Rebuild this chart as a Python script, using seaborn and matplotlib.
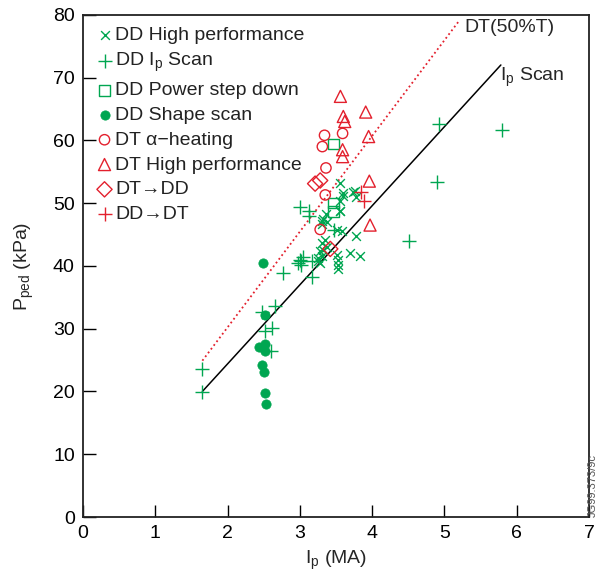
import matplotlib
matplotlib.use("Agg")
import matplotlib.pyplot as plt
import seaborn as sns
import pandas as pd

# ---------------- data ----------------
dd_hp_x = [3.56, 3.60, 3.73, 3.76, 3.78, 3.56, 3.56, 3.36, 3.32, 3.31, 3.37, 3.30,
           3.51, 3.58, 3.78, 3.35, 3.30, 3.37, 3.32, 3.28, 3.25, 3.28, 3.51, 3.53,
           3.53, 3.52, 3.69, 3.83, 3.30, 3.25, 3.55, 3.59]
dd_hp_y = [53.2, 51.6, 51.7, 52.0, 51.0, 50.4, 48.8, 48.2, 47.4, 47.2, 47.0, 46.6,
           45.7, 45.5, 44.8, 44.2, 43.7, 43.0, 42.6, 42.3, 41.2, 40.4, 41.8, 41.0,
           40.2, 39.5, 42.0, 41.6, 41.5, 40.8, 48.7, 51.2]

dd_ip_x = [1.65, 1.65, 2.47, 2.52, 2.62, 2.60, 2.66, 2.77, 2.98, 3.00, 3.02, 3.04,
           3.01, 3.16, 3.16, 3.00, 3.12, 3.13, 3.47, 4.51, 4.92, 5.80, 4.89]
dd_ip_y = [23.6, 19.9, 32.6, 29.6, 30.1, 26.4, 33.6, 38.8, 40.4, 41.0, 40.2, 41.4,
           40.8, 40.7, 38.2, 49.4, 48.8, 47.9, 45.7, 44.0, 62.6, 61.7, 53.4]

dd_psd_x = [3.46, 3.46, 3.46]
dd_psd_y = [59.4, 50.0, 48.7]

dd_shape_x = [2.49, 2.51, 2.52, 2.43, 2.52, 2.48, 2.50, 2.52, 2.53]
dd_shape_y = [40.4, 32.2, 27.5, 27.0, 26.4, 24.2, 23.1, 19.8, 18.0]

dt_alpha_x = [3.34, 3.59, 3.31, 3.36, 3.35, 3.28]
dt_alpha_y = [60.8, 61.1, 59.0, 55.6, 51.3, 45.8]

dt_hp_x = [3.56, 3.91, 3.60, 3.62, 3.95, 3.59, 3.59, 3.96, 3.97]
dt_hp_y = [67.0, 64.5, 63.8, 63.0, 60.6, 58.5, 57.4, 53.5, 46.5]

dt_dd_x = [3.21, 3.28, 3.42]
dt_dd_y = [53.1, 53.6, 42.7]

dd_dt_x = [3.85, 3.88]
dd_dt_y = [51.8, 50.4]

ip_scan_x = [1.65, 5.78]
ip_scan_y = [20.0, 72.0]
dt50_x = [1.65, 5.20]
dt50_y = [24.9, 79.0]

x_ticks = [0, 1, 2, 3, 4, 5, 6, 7]
y_ticks = [0, 10, 20, 30, 40, 50, 60, 70, 80]

GREEN = "#00a651"
RED = "#e3202d"

# ---------------- style ----------------
sns.set_theme(style="white")
plt.rcParams["font.family"] = ["Liberation Sans", "DejaVu Sans"]
plt.rcParams["mathtext.fontset"] = "custom"
plt.rcParams["mathtext.rm"] = "Liberation Sans"
plt.rcParams["mathtext.it"] = "Liberation Sans:italic"

fig = plt.figure(figsize=(5.98, 5.74), dpi=100)
ax = fig.add_axes([0.139, 0.0993, 0.846, 0.875])

groups = [
    ("DD High performance", dd_hp_x, dd_hp_y, "x", GREEN, False, 40),
    ("DD I$_\\mathrm{p}$ Scan", dd_ip_x, dd_ip_y, "+", GREEN, False, 110),
    ("DD Power step down", dd_psd_x, dd_psd_y, "s", GREEN, True, 60),
    ("DD Shape scan", dd_shape_x, dd_shape_y, "o", GREEN, False, 45),
    ("DT \u03b1\u2212heating", dt_alpha_x, dt_alpha_y, "o", RED, True, 55),
    ("DT High performance", dt_hp_x, dt_hp_y, "^", RED, True, 75),
    ("DT\u2192DD", dt_dd_x, dt_dd_y, "D", RED, True, 60),
    ("DD\u2192DT", dd_dt_x, dd_dt_y, "+", RED, False, 110),
]

for label, xs, ys, m, c, hollow, s in groups:
    df = pd.DataFrame({"x": xs, "y": ys})
    if hollow:
        sns.scatterplot(data=df, x="x", y="y", marker=m, s=s, color=c,
                        facecolors="none", edgecolors=c, linewidth=1.0,
                        label=label, ax=ax, zorder=3)
    elif m in ("x", "+"):
        sns.scatterplot(data=df, x="x", y="y", marker=m, s=s, color=c,
                        linewidth=1.0, label=label, ax=ax, zorder=3)
    else:
        sns.scatterplot(data=df, x="x", y="y", marker=m, s=s, color=c,
                        edgecolor=c, linewidth=0.5, label=label, ax=ax, zorder=3)

sns.lineplot(x=ip_scan_x, y=ip_scan_y, color="black", linewidth=1.1, ax=ax, zorder=2)
sns.lineplot(x=dt50_x, y=dt50_y, color=RED, linewidth=1.3,
             linestyle=(0, (1, 1.6)), ax=ax, zorder=2)

ax.text(5.27, 77.9, "DT(50%T)", fontsize=14, va="center", ha="left")
ax.text(5.77, 70.0, "I$_\\mathrm{p}$ Scan", fontsize=14, va="center", ha="left")

ax.set_xlim(0, 7)
ax.set_ylim(0, 80)
ax.set_xticks(x_ticks)
ax.set_yticks(y_ticks)
ax.set_xticklabels([str(t) for t in x_ticks])
ax.set_yticklabels([str(t) for t in y_ticks])
ax.tick_params(axis="both", direction="in", length=9, width=1, labelsize=14,
               bottom=True, left=True, top=False, right=False, pad=6, colors="black")
for sp in ax.spines.values():
    sp.set_color("#222222")
    sp.set_linewidth(1.3)
ax.set_xlabel("I$_\\mathrm{p}$ (MA)", fontsize=14, labelpad=5)
ax.set_ylabel("P$_\\mathrm{ped}$ (kPa)", fontsize=14, labelpad=12)

leg = ax.legend(loc="upper left", frameon=False, fontsize=14, handletextpad=0.05,
                handlelength=1.0, borderaxespad=0.3, labelspacing=0.37,
                borderpad=0.3)
for t in leg.get_texts():
    t.set_color("#222222")

fig.text(0.992, 0.1, "JG99.373/9c", rotation=90, fontsize=8, color="#555555",
         ha="center", va="bottom")

fig.savefig("out.png", dpi=100)
